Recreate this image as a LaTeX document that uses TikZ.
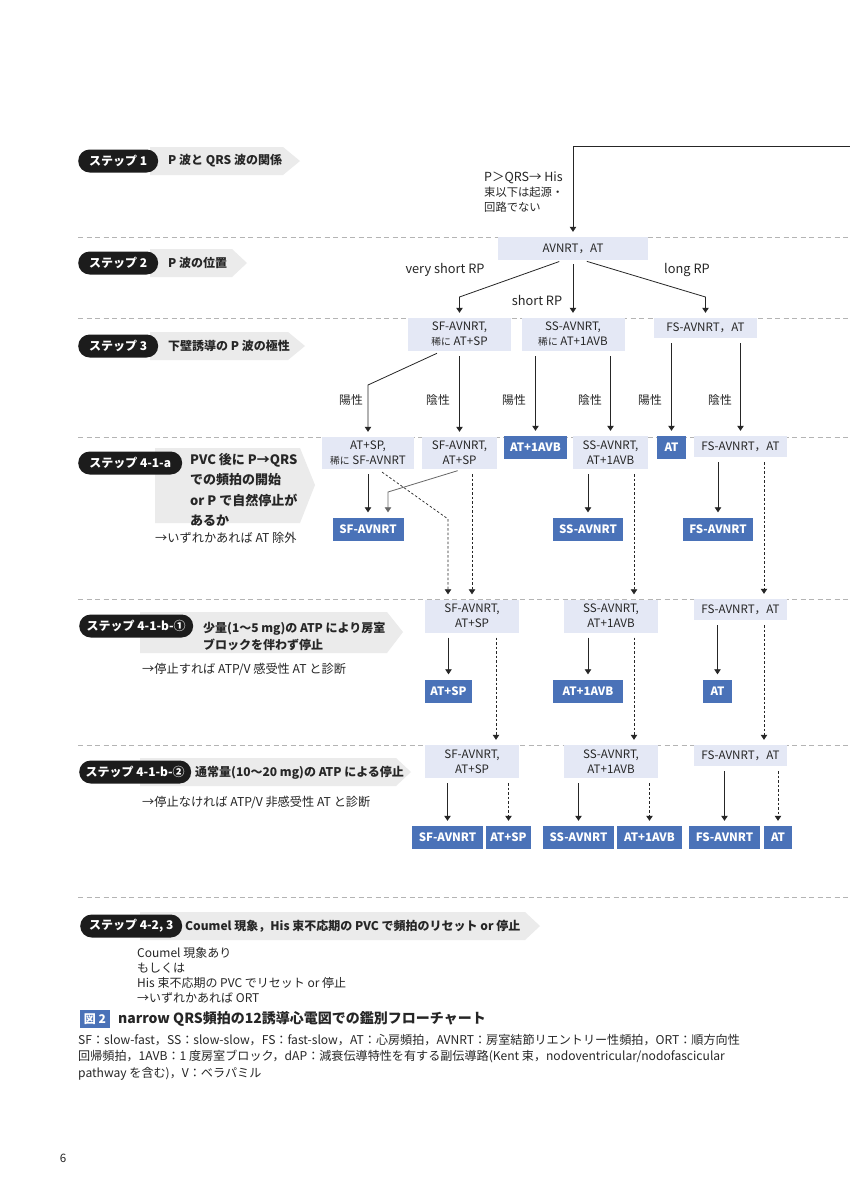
\documentclass[tikz,border=0pt]{standalone}
\usepackage{fontspec}
\setmainfont{Noto Sans CJK JP}
\usetikzlibrary{arrows.meta,calc}
\definecolor{ink}{HTML}{262626}
\definecolor{boxlt}{HTML}{E4E8F5}
\definecolor{boxdk}{HTML}{4A72B8}
\definecolor{bandg}{HTML}{EBEBEB}
\definecolor{pillk}{HTML}{1C1C1C}
\definecolor{sepg}{HTML}{B4B4B4}

\begin{document}
\begin{tikzpicture}[x=1pt, y=-1pt,
  every node/.style={inner sep=0pt, text=ink, font=\fontsize{11.6}{15}\selectfont},
  lbox/.style={fill=boxlt, align=center},
  dbox/.style={fill=boxdk, text=white, minimum height=23, font=\bfseries\fontsize{11.5}{14}\selectfont},
  pill/.style={fill=pillk, text=white, rounded corners=11.5pt, minimum height=23, anchor=west,
    font=\bfseries\fontsize{12}{14}\selectfont},
  steptxt/.style={anchor=west, align=left, font=\bfseries\fontsize{12}{17}\selectfont},
  note/.style={anchor=west, align=left, font=\fontsize{12.2}{15}\selectfont},
  lbl/.style={font=\fontsize{11.8}{14}\selectfont},
  arr/.style={-{Triangle[length=5pt,width=6.5pt]}, line width=0.8pt, draw=ink,
    shorten <=5pt, shorten >=5pt},
  darr/.style={arr, dash pattern=on 2.5pt off 2pt, line width=0.7pt},
  sep/.style={draw=sepg, line width=0.7pt, dash pattern=on 5pt off 3.5pt},
  band/.style={fill=bandg}
]
  \fill[white] (0,0) rectangle (850,1200);
  \useasboundingbox (0,0) rectangle (850,1200);

  % separators between steps
  \foreach \y in {237,318,437,599,745,897}
    \draw[sep] (78,\y) -- (850,\y);

  % step 1
  \fill[band] (150,147) -- (283,147) -- (300,161) -- (283,175) -- (150,175) -- cycle;
  \node[pill, minimum width=80] (st1) at (78,161) {ステップ 1};
  \node[steptxt] (st1t) at (168,161) {P 波と QRS 波の関係};

  % step 2
  \fill[band] (150,249) -- (232,249) -- (247,263) -- (232,277) -- (150,277) -- cycle;
  \node[pill, minimum width=80] (st2) at (78,263) {ステップ 2};
  \node[steptxt] (st2t) at (168,263) {P 波の位置};

  % step 3
  \fill[band] (150,332) -- (288,332) -- (305,346) -- (288,360) -- (150,360) -- cycle;
  \node[pill, minimum width=80] (st3) at (78,346) {ステップ 3};
  \node[steptxt] (st3t) at (168,346) {下壁誘導の P 波の極性};

  % step 4-1-a
  \fill[band] (155,448) -- (300,448) -- (315,485) -- (300,523) -- (155,523) -- cycle;
  \node[pill, minimum width=104] (st4a) at (78,463) {ステップ 4-1-a};
  \node[steptxt, font=\bfseries\fontsize{13}{20.3}\selectfont] (st4at) at (190,490)
    {PVC 後に P→QRS\\での頻拍の開始\\or P で自然停止が\\あるか};
  \node[note] (st4an) at (155,538) {→いずれかあれば AT 除外};

  % step 4-1-b-1
  \fill[band] (140,612) -- (387,612) -- (403,632) -- (387,653) -- (140,653) -- cycle;
  \node[pill, minimum width=114] (st4b) at (79,626) {ステップ 4-1-b-①};
  \node[steptxt] (st4bt) at (203,636) {少量(1～5 mg)の ATP により房室\\ブロックを伴わず停止};
  \node[note] (st4bn) at (142,669) {→停止すれば ATP/V 感受性 AT と診断};

  % step 4-1-b-2
  \fill[band] (140,758) -- (396,758) -- (411,772) -- (396,786) -- (140,786) -- cycle;
  \node[pill, minimum width=112] (st4c) at (79,772) {ステップ 4-1-b-②};
  \node[steptxt] (st4ct) at (195,773) {通常量(10～20 mg)の ATP による停止};
  \node[note] (st4cn) at (142,802) {→停止なければ ATP/V 非感受性 AT と診断};

  % step 4-2, 3
  \fill[band] (140,912) -- (525,912) -- (540,926) -- (525,940) -- (140,940) -- cycle;
  \node[pill, minimum width=102] (st5) at (80,926) {ステップ 4-2, 3};
  \node[steptxt] (st5t) at (185,926) {Coumel 現象，His 束不応期の PVC で頻拍のリセット or 停止};
  \node[note, font=\fontsize{12}{15}\selectfont] (st5n) at (137,975.5)
    {Coumel 現象あり\\もしくは\\His 束不応期の PVC でリセット or 停止\\→いずれかあれば ORT};

  % top entry
  \coordinate (entry) at (850,146);
  \node[anchor=west, align=left, font=\fontsize{12.5}{15}\selectfont] (pqrs) at (484,192)
    {P＞QRS→ His\\{\fontsize{11.3}{15}\selectfont 束以下は起源・}\\{\fontsize{11.3}{15}\selectfont 回路でない}};
  \node[lbox, minimum width=150, minimum height=23] (avnrt) at (573,248.5) {AVNRT，AT};
  \draw[arr, shorten <=0pt] (entry) -| (avnrt.north);

  % step 3 row
  \node[lbox, minimum width=103, minimum height=33] (sf3) at (459.5,334.5)
    {SF-AVNRT,\\{\fontsize{9.8}{15}\selectfont 稀に} AT+SP};
  \node[lbox, minimum width=103, minimum height=33] (ss3) at (573,334.5)
    {SS-AVNRT,\\{\fontsize{9.8}{15}\selectfont 稀に} AT+1AVB};
  \node[lbox, minimum width=103, minimum height=20] (fs3) at (705.5,328) {FS-AVNRT，AT};

  \node[lbl, font=\fontsize{12.8}{14}\selectfont] (vsrp) at (445,270) {very short RP};
  \node[lbl, font=\fontsize{12.8}{14}\selectfont] (srp) at (537,300) {short RP};
  \node[lbl, font=\fontsize{12.8}{14}\selectfont] (lrp) at (687,270) {long RP};
  \draw[arr, shorten <=4pt] ([xshift=-10pt]avnrt.south) -- (sf3.north |- 0,297) -- (sf3.north);
  \draw[arr, shorten <=4pt] (avnrt.south) -- (ss3.north);
  \draw[arr, shorten <=4pt] ([xshift=10pt]avnrt.south) -- (fs3.north |- 0,297) -- (fs3.north);

  % step 4-1-a row
  \node[lbox, minimum width=92, minimum height=32] (a41sp) at (368,453)
    {AT+SP,\\{\fontsize{9.8}{15}\selectfont 稀に} SF-AVNRT};
  \node[lbox, minimum width=75, minimum height=32] (a41sf) at (459.5,453) {SF-AVNRT,\\AT+SP};
  \node[dbox, minimum width=63] (a41avb) at (535.5,447.5) {AT+1AVB};
  \node[lbox, minimum width=75, minimum height=33] (a41ss) at (610.5,452.5) {SS-AVNRT,\\AT+1AVB};
  \node[dbox, minimum width=29] (a41at) at (671.5,447.5) {AT};
  \node[lbox, minimum width=93, minimum height=21] (a41fs) at (740.5,446.5) {FS-AVNRT，AT};

  \node[lbl] (pos1) at (351,400) {陽性};
  \node[lbl] (neg1) at (438,400) {陰性};
  \node[lbl] (pos2) at (514,400) {陽性};
  \node[lbl] (neg2) at (590,400) {陰性};
  \node[lbl] (pos3) at (650,400) {陽性};
  \node[lbl] (neg3) at (720,400) {陰性};
  \draw[arr] ([xshift=-18pt]sf3.south) -- (a41sp.north |- 0,385) -- (a41sp.north);
  \draw[arr] (sf3.south) -- (a41sf.north);
  \draw[arr] (a41avb.north |- ss3.south) -- (a41avb.north);
  \draw[arr] (a41ss.north |- ss3.south) -- (a41ss.north);
  \draw[arr] (a41at.north |- fs3.south) -- (a41at.north);
  \draw[arr] (a41fs.north |- fs3.south) -- (a41fs.north);

  % step 4-1-a results
  \node[dbox, minimum width=71] (r41sf) at (368,529) {SF-AVNRT};
  \node[dbox, minimum width=70] (r41ss) at (588,529) {SS-AVNRT};
  \node[dbox, minimum width=70] (r41fs) at (718,529) {FS-AVNRT};

  % step 4-1-b-1 row
  \node[lbox, minimum width=94, minimum height=33] (b1sf) at (472,616) {SF-AVNRT,\\AT+SP};
  \node[lbox, minimum width=94, minimum height=33] (b1ss) at (611,616) {SS-AVNRT,\\AT+1AVB};
  \node[lbox, minimum width=93, minimum height=21] (b1fs) at (740.5,609.5) {FS-AVNRT，AT};

  \draw[arr] (a41sp.south) -- (r41sf.north);
  \draw[arr, draw=ink!70] ([xshift=3pt]a41sf.south) -- ([xshift=20pt]r41sf.north |- 0,492)
    -- ([xshift=20pt]r41sf.north);
  \draw[darr] ([xshift=10pt]a41sp.south) -- ([xshift=-24pt]b1sf.north |- 0,519)
    -- ([xshift=-24pt]b1sf.north);
  \draw[darr] (b1sf.north |- a41sf.south) -- (b1sf.north);
  \draw[arr] (r41ss.north |- a41ss.south) -- (r41ss.north);
  \draw[darr] ([xshift=23pt]b1ss.north |- a41ss.south) -- ([xshift=23pt]b1ss.north);
  \draw[arr] (r41fs.north |- a41fs.south) -- (r41fs.north);
  \draw[darr] ([xshift=23.5pt]b1fs.north |- a41fs.south) -- ([xshift=23.5pt]b1fs.north);

  % step 4-1-b-1 results
  \node[dbox, minimum width=47] (r1sp) at (448.5,691) {AT+SP};
  \node[dbox, minimum width=70] (r1avb) at (588,691) {AT+1AVB};
  \node[dbox, minimum width=29] (r1at) at (717.5,691) {AT};

  % step 4-1-b-2 row
  \node[lbox, minimum width=94, minimum height=33] (b2sf) at (472,761.5) {SF-AVNRT,\\AT+SP};
  \node[lbox, minimum width=94, minimum height=33] (b2ss) at (611,761.5) {SS-AVNRT,\\AT+1AVB};
  \node[lbox, minimum width=93, minimum height=21] (b2fs) at (740.5,755.5) {FS-AVNRT，AT};

  \draw[arr] (r1sp.north |- b1sf.south) -- (r1sp.north);
  \draw[darr] ([xshift=24pt]b1sf.south) -- ([xshift=24pt]b2sf.north);
  \draw[arr] (r1avb.north |- b1ss.south) -- (r1avb.north);
  \draw[darr] ([xshift=23pt]b1ss.south) -- ([xshift=23pt]b2ss.north);
  \draw[arr] (r1at.north |- b1fs.south) -- (r1at.north);
  \draw[darr] ([xshift=23.5pt]b1fs.south) -- ([xshift=23.5pt]b2fs.north);

  % step 4-1-b-2 results
  \node[dbox, minimum width=71] (r2sf) at (447.5,837.5) {SF-AVNRT};
  \node[dbox, minimum width=45] (r2sp) at (508.5,837.5) {AT+SP};
  \node[dbox, minimum width=71] (r2ss) at (578.5,837.5) {SS-AVNRT};
  \node[dbox, minimum width=65] (r2avb) at (649.5,837.5) {AT+1AVB};
  \node[dbox, minimum width=71] (r2fs) at (724.5,837.5) {FS-AVNRT};
  \node[dbox, minimum width=28] (r2at) at (778,837.5) {AT};

  \draw[arr] (r2sf.north |- b2sf.south) -- (r2sf.north);
  \draw[darr] (r2sp.north |- b2sf.south) -- (r2sp.north);
  \draw[arr] (r2ss.north |- b2ss.south) -- (r2ss.north);
  \draw[darr] (r2avb.north |- b2ss.south) -- (r2avb.north);
  \draw[arr] (r2fs.north |- b2fs.south) -- (r2fs.north);
  \draw[darr] (r2at.north |- b2fs.south) -- (r2at.north);

  % caption and footnote
  \node[fill=boxdk, text=white, minimum width=30, minimum height=18,
    font=\bfseries\fontsize{12}{14}\selectfont] (fig) at (95,1019) {図 2};
  \node[anchor=west, font=\bfseries\fontsize{14}{16}\selectfont] (title) at (118,1019)
    {narrow QRS頻拍の12誘導心電図での鑑別フローチャート};
  \node[anchor=west, align=left, font=\fontsize{12.1}{16.5}\selectfont] (foot) at (78,1057)
    {SF：slow-fast，SS：slow-slow，FS：fast-slow，AT：心房頻拍，AVNRT：房室結節リエントリー性頻拍，ORT：順方向性\\
     回帰頻拍，1AVB：1 度房室ブロック，dAP：減衰伝導特性を有する副伝導路(Kent 束，nodoventricular/nodofascicular\\
     pathway を含む)，V：ベラパミル};
  \node (pgno) at (63,1158) {6};
\end{tikzpicture}
\end{document}
